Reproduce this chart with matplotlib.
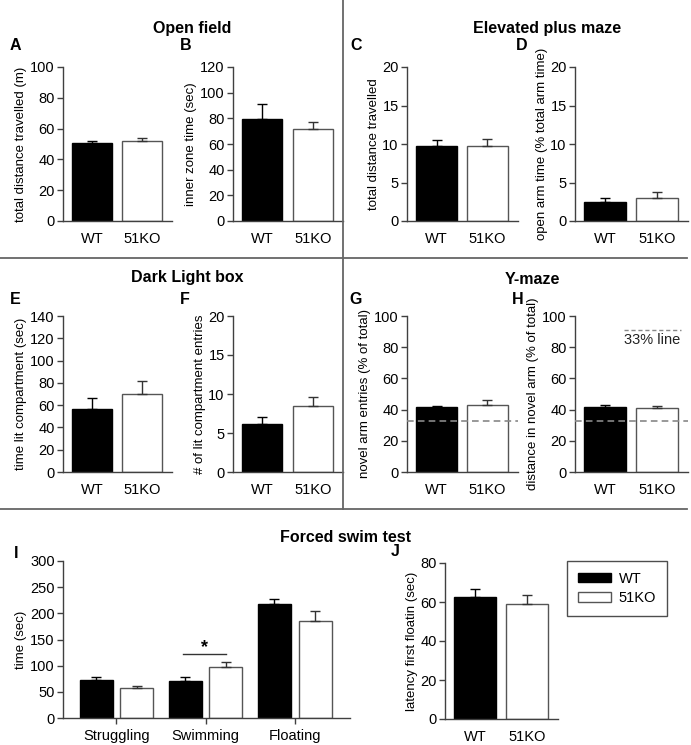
import numpy as np
import matplotlib
matplotlib.use('Agg')
import matplotlib.pyplot as plt
from matplotlib.patches import Patch
from matplotlib.lines import Line2D

plt.rcParams['font.family'] = ['Liberation Sans', 'DejaVu Sans']

# ---------------- data ----------------
groups = ['WT', '51KO']

# open field
a_mean = [50.4, 52.0]
a_err = [1.6, 2.0]
b_mean = [79.8, 71.3]
b_err = [11.5, 5.5]
# elevated plus maze
c_mean = [9.75, 9.7]
c_err = [0.8, 0.9]
d_mean = [2.5, 3.05]
d_err = [0.5, 0.75]
# dark light box
e_mean = [56.6, 70.3]
e_err = [9.5, 11.7]
f_mean = [6.15, 8.5]
f_err = [0.95, 1.1]
# y-maze
g_mean = [41.4, 43.2]
g_err = [1.1, 3.0]
h_mean = [41.5, 40.8]
h_err = [1.2, 1.3]
chance_line = 33
# forced swim test
fst_cats = ['Struggling', 'Swimming', 'Floating']
fst_wt = [71.8, 71.2, 218.5]
fst_wt_err = [7.0, 6.4, 9.0]
fst_ko = [57.8, 96.6, 184.4]
fst_ko_err = [3.2, 10.2, 19.6]
j_mean = [62.8, 58.8]
j_err = [4.1, 4.6]

W, H = 691, 745
fig = plt.figure(figsize=(W / 100, H / 100), dpi=100)

spine_col = '#404040'
ko_edge = '#555555'


def add_ax(x0, x1, ytop, ybot):
    return fig.add_axes([x0 / W, 1 - ybot / H, (x1 - x0) / W, (ybot - ytop) / H])


def style(ax, ymax, ystep, ylabel):
    for s in ['top', 'right']:
        ax.spines[s].set_visible(False)
    for s in ['left', 'bottom']:
        ax.spines[s].set_color(spine_col)
        ax.spines[s].set_linewidth(1.0)
    ax.set_ylim(0, ymax)
    ax.set_yticks(np.arange(0, ymax + 0.01, ystep))
    ax.tick_params(axis='y', direction='out', length=4, width=1, color=spine_col,
                   labelsize=10.5, pad=2)
    ax.set_ylabel(ylabel, fontsize=9.5, labelpad=2)


def two_bars(ax, mean, err, ymax, ystep, ylabel):
    x = np.arange(2)
    ax.bar(x[0], mean[0], width=0.8, color='black', edgecolor='black', linewidth=1, zorder=2)
    ax.bar(x[1], mean[1], width=0.8, color='white', edgecolor=ko_edge, linewidth=1, zorder=2)
    ax.errorbar(x[0], mean[0], yerr=[[0], [err[0]]], fmt='none', ecolor='black',
                elinewidth=1, capsize=3.5, capthick=1, zorder=3)
    ax.errorbar(x[1], mean[1], yerr=[[0], [err[1]]], fmt='none', ecolor='#333333',
                elinewidth=1, capsize=3.5, capthick=1, zorder=3)
    ax.set_xlim(-0.58, 1.6)
    ax.set_xticks(x)
    ax.set_xticklabels(groups)
    ax.tick_params(axis='x', length=0, labelsize=10.5, pad=8)
    style(ax, ymax, ystep, ylabel)


# row 1
axA = add_ax(63, 172, 67, 221)
two_bars(axA, a_mean, a_err, 100, 20, 'total distance travelled (m)')
axB = add_ax(233, 343, 67, 221)
two_bars(axB, b_mean, b_err, 120, 20, 'inner zone time (sec)')
axC = add_ax(407, 518, 67, 221)
two_bars(axC, c_mean, c_err, 20, 5, 'total distance travelled')
axD = add_ax(575, 688, 67, 221)
two_bars(axD, d_mean, d_err, 20, 5, 'open arm time (% total arm time)')

# row 2
axE = add_ax(63, 172, 316, 472)
two_bars(axE, e_mean, e_err, 140, 20, 'time lit compartment (sec)')
axF = add_ax(233, 343, 316, 472)
two_bars(axF, f_mean, f_err, 20, 5, '# of lit compartment entries')
axG = add_ax(407, 518, 316, 472)
two_bars(axG, g_mean, g_err, 100, 20, 'novel arm entries (% of total)')
axH = add_ax(575, 688, 316, 472)
two_bars(axH, h_mean, h_err, 100, 20, 'distance in novel arm (% of total)')
for ax in [axG, axH]:
    ax.axhline(chance_line, color='#888888', linestyle='--', dashes=(4, 2.5), linewidth=1.2,
               zorder=4, clip_on=False)
axH.plot([0.36, 1.47], [91, 91], color='#888888', linestyle='--', dashes=(3, 2), linewidth=1)
axH.text(0.9, 84.5, '33% line', ha='center', va='center', fontsize=10.5, color='#222222')

# row 3 - forced swim
axI = add_ax(63, 350, 561, 718)
xg = np.arange(3)
off = 0.228
bw = 0.37
axI.bar(xg - off, fst_wt, width=bw, color='black', edgecolor='black', linewidth=1, zorder=2)
axI.bar(xg + off, fst_ko, width=bw, color='white', edgecolor=ko_edge, linewidth=1, zorder=2)
axI.errorbar(xg - off, fst_wt, yerr=[np.zeros(3), fst_wt_err], fmt='none', ecolor='black',
             elinewidth=1, capsize=3.5, capthick=1, zorder=3)
axI.errorbar(xg + off, fst_ko, yerr=[np.zeros(3), fst_ko_err], fmt='none', ecolor='#333333',
             elinewidth=1, capsize=3.5, capthick=1, zorder=3)
axI.set_xlim(-0.6, 2.62)
axI.set_xticks(xg)
axI.set_xticklabels(fst_cats)
axI.tick_params(axis='x', direction='out', length=4, width=1, color=spine_col,
                labelsize=10.5, pad=4)
style(axI, 300, 50, 'time (sec)')
# significance bar
axI.plot([0.744, 1.228], [122, 122], color='#333333', linewidth=1)
axI.text(0.99, 119, '*', ha='center', va='bottom', fontsize=13, fontweight='bold')

axJ = add_ax(445, 558, 563, 719)
two_bars(axJ, j_mean, j_err, 80, 20, 'latency first floatin (sec)')

# legend
handles = [Patch(facecolor='black', edgecolor='black', label='WT'),
           Patch(facecolor='white', edgecolor=ko_edge, label='51KO')]
leg = fig.legend(handles=handles, loc='upper left', bbox_to_anchor=(567 / W, 1 - 561 / H),
                 fontsize=10.5, frameon=True, fancybox=False, handlelength=2.3,
                 handleheight=0.6, borderpad=0.75, labelspacing=0.35, handletextpad=0.5,
                 borderaxespad=0)
leg.get_frame().set_edgecolor('#222222')
leg.get_frame().set_linewidth(1)

# section titles and panel letters
titles = [('Open field', 192, 29), ('Elevated plus maze', 547, 29),
          ('Dark Light box', 187, 278), ('Y-maze', 532, 280),
          ('Forced swim test', 345, 537)]
for t, x, y in titles:
    fig.text(x / W, 1 - y / H, t, ha='center', va='center', fontsize=11.5, fontweight='bold')

letters = [('A', 10, 45), ('B', 180, 45), ('C', 350, 45), ('D', 516, 46),
           ('E', 10, 299), ('F', 180, 299), ('G', 349, 300), ('H', 512, 300),
           ('I', 14, 553), ('J', 391, 552)]
for t, x, y in letters:
    fig.text(x / W, 1 - y / H, t, ha='left', va='center', fontsize=11.5, fontweight='bold')

# divider lines
lc = '#666666'
fig.add_artist(Line2D([343 / W, 343 / W], [1, 1 - 509 / H], color=lc, linewidth=1.3))
fig.add_artist(Line2D([0, 687 / W], [1 - 258 / H, 1 - 258 / H], color=lc, linewidth=1.3))
fig.add_artist(Line2D([0, 687 / W], [1 - 509 / H, 1 - 509 / H], color=lc, linewidth=1.3))

fig.savefig('out.png', dpi=100)
